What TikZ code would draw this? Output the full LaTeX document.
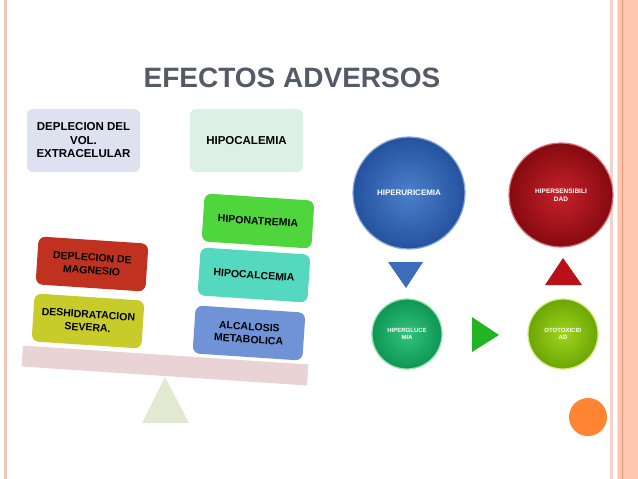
\documentclass[tikz,border=0pt]{standalone}
\usepackage{fontspec}
\setmainfont{Liberation Sans}
\usetikzlibrary{shapes.geometric}
\definecolor{titlegray}{HTML}{545B66}
\definecolor{lavender}{HTML}{DDE1F0}
\definecolor{mint}{HTML}{DCF0E5}
\definecolor{natgreen}{HTML}{4ED63C}
\definecolor{turq}{HTML}{55D9BE}
\definecolor{metblue}{HTML}{6F93D6}
\definecolor{magred}{HTML}{C0321F}
\definecolor{deshyel}{HTML}{C8CC2A}
\definecolor{beampink}{HTML}{E9D3D4}
\definecolor{fulcrum}{HTML}{E1E9D1}
\definecolor{bordpink}{HTML}{F3C6B8}
\definecolor{bordlight}{HTML}{F4D2C6}
\definecolor{bordfaint}{HTML}{F9E2DA}
\definecolor{salmon}{HTML}{FDC8AF}
\definecolor{salmondark}{HTML}{E8977A}
\definecolor{blueIn}{HTML}{4C80CC}
\definecolor{blueOut}{HTML}{24529E}
\definecolor{blueRim}{HTML}{86A6DA}
\definecolor{redIn}{HTML}{C8212A}
\definecolor{redOut}{HTML}{860A10}
\definecolor{redRim}{HTML}{D8707A}
\definecolor{grnIn}{HTML}{30C47C}
\definecolor{grnOut}{HTML}{0F9652}
\definecolor{grnRim}{HTML}{8FE0B0}
\definecolor{limeIn}{HTML}{A0D41E}
\definecolor{limeOut}{HTML}{6CA606}
\definecolor{limeRim}{HTML}{D0EE80}
\definecolor{triblue}{HTML}{3C6CBA}
\definecolor{trired}{HTML}{B81218}
\definecolor{trigreen}{HTML}{22B422}
\definecolor{orangedot}{HTML}{FF8533}
\begin{document}
\begin{tikzpicture}[x=1pt,y=-1pt,
  flatbox/.style={rounded corners=6pt, minimum width=113pt, minimum height=63pt,
    align=center, inner sep=2pt, text=black,
    font=\bfseries\fontsize{11.5}{13.5}\selectfont},
  tiltbox/.style={rounded corners=7pt, minimum width=110pt, minimum height=48pt,
    align=center, inner sep=2pt, text=black, rotate=-3.8,
    font=\bfseries\fontsize{10.5}{13}\selectfont},
  disc/.style={circle, text=white, align=center, line width=1.2pt,
    font=\bfseries\fontsize{6.5}{7.5}\selectfont}
]
\path[use as bounding box] (0,0) rectangle (638,479);
\fill[white] (0,0) rectangle (638,479);

% page borders
\fill[bordpink] (3.5,0) rectangle (6.5,479);
\fill[bordlight] (610,0) rectangle (612.7,479);
\fill[bordfaint] (616.5,0) rectangle (617.7,479);
\fill[salmon] (618.3,0) rectangle (638,479);
\fill[salmondark] (622,0) rectangle (622.8,479);

% title
\node[text=titlegray, font=\bfseries\fontsize{28}{30}\selectfont] (title) at (292,78) {EFECTOS ADVERSOS};

% top flat boxes
\node[flatbox, fill=lavender] (vol) at (83.5,140.5) {DEPLECION DEL\\VOL.\\EXTRACELULAR};
\node[flatbox, fill=mint] (hipocal) at (246.5,140.5) {HIPOCALEMIA};

% balance
\fill[fulcrum] (165,377) -- (189,423) -- (142,423) -- cycle;
\node[fill=beampink, minimum width=286pt, minimum height=21pt, rotate=-3.8, inner sep=0pt] (beam) at (165,365.5) {};

% tilted boxes
\node[tiltbox, fill=natgreen] (natr) at (258,221) {HIPONATREMIA};
\node[tiltbox, fill=turq] (calc) at (254,275) {HIPOCALCEMIA};
\node[tiltbox, fill=metblue] (alc) at (249,333) {ALCALOSIS\\METABOLICA};
\node[tiltbox, fill=magred] (mag) at (92,264) {DEPLECION DE\\MAGNESIO};
\node[tiltbox, fill=deshyel] (desh) at (88,321) {DESHIDRATACION\\SEVERA.};

% circles
\node[disc, minimum size=112pt, inner color=blueIn, outer color=blueOut, draw=blueRim,
  font=\bfseries\fontsize{8}{9}\selectfont] (uric) at (409,193) {HIPERURICEMIA};
\node[disc, minimum size=104pt, inner color=redIn, outer color=redOut, draw=redRim] (sens) at (561,195) {HIPERSENSIBILI\\DAD};
\node[disc, minimum size=70pt, inner color=grnIn, outer color=grnOut, draw=grnRim,
  font=\bfseries\fontsize{6}{7.5}\selectfont] (gluc) at (407,334) {HIPERGLUCE\\MIA};
\node[disc, minimum size=70pt, inner color=limeIn, outer color=limeOut, draw=limeRim,
  font=\bfseries\fontsize{6}{7.5}\selectfont] (oto) at (563,334) {OTOTOXICID\\AD};
\node[circle, fill=orangedot, minimum size=38pt, inner sep=0pt] (dot) at (588,417) {};

% triangle markers
\fill[triblue] (388,262) -- (423,262) -- (406,288) -- cycle;
\fill[trired] (545,285) -- (582,285) -- (563,258) -- cycle;
\fill[trigreen] (472,317) -- (499,335) -- (472,352) -- cycle;
\end{tikzpicture}
\end{document}
